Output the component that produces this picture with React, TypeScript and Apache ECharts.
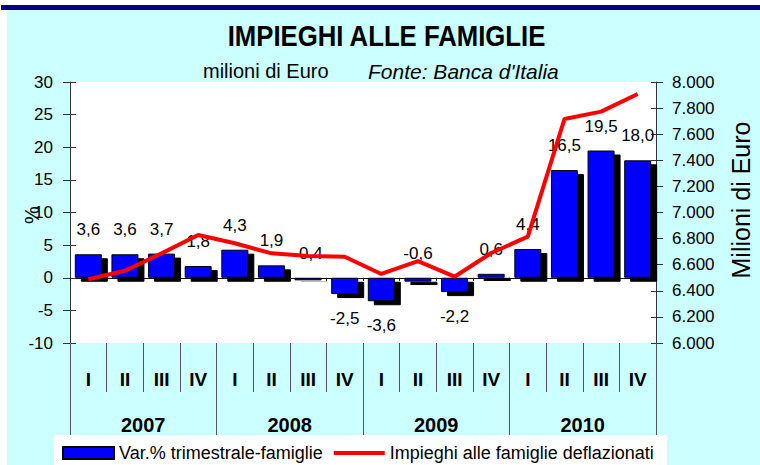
import React, { useEffect, useRef } from 'react';
import * as echarts from 'echarts';

const quarters = ['I', 'II', 'III', 'IV', 'I', 'II', 'III', 'IV', 'I', 'II', 'III', 'IV', 'I', 'II', 'III', 'IV'];
const years = ['2007', '2008', '2009', '2010'];
const varTrimestrale = [3.6, 3.6, 3.7, 1.8, 4.3, 1.9, -0.4, -2.5, -3.6, -0.6, -2.2, 0.6, 4.4, 16.5, 19.5, 18.0];
const impieghiDeflazionati = [6488, 6554, 6687, 6828, 6764, 6687, 6667, 6661, 6529, 6628, 6508, 6690, 6815, 7716, 7773, 7908];
const rightTickLabels = ['6.000', '6.200', '6.400', '6.600', '6.800', '7.000', '7.200', '7.400', '7.600', '7.800', '8.000'];

const barName = 'Var.% trimestrale-famiglie';
const lineName = 'Impieghi alle famiglie deflazionati';

export default function App() {
  const ref = useRef<HTMLDivElement>(null);
  useEffect(() => {
    const chart = echarts.init(ref.current!, null, { renderer: 'svg' });
    const font = '"Liberation Sans", Arial, sans-serif';
    const axisColor = '#333';
    const sepColor = '#555';
    chart.setOption({
      animation: false,
      backgroundColor: '#fff',
      graphic: [
        { type: 'rect', z: -10, silent: true, shape: { x: 1, y: 5, width: 759, height: 5 }, style: { fill: '#000080' } },
        { type: 'rect', z: -10, silent: true, shape: { x: 7, y: 10, width: 753, height: 455 }, style: { fill: '#ccffff' } },
        { type: 'rect', z: -5, silent: true, shape: { x: 54, y: 435, width: 613, height: 30 }, style: { fill: '#ffffff' } },
        {
          type: 'text', x: 386.5, y: 36, scaleX: 0.887,
          style: { text: 'IMPIEGHI ALLE FAMIGLIE', fill: '#000', font: `bold 29px ${font}`, textAlign: 'center', textVerticalAlign: 'middle' },
        },
        {
          type: 'text', x: 203, y: 71,
          style: { text: 'milioni di Euro', fill: '#000', font: `20px ${font}`, textAlign: 'left', textVerticalAlign: 'middle' },
        },
        {
          type: 'text', x: 368, y: 71,
          style: { text: "Fonte: Banca d'Italia", fill: '#000', font: `italic 21px ${font}`, textAlign: 'left', textVerticalAlign: 'middle' },
        },
        {
          type: 'text', x: 32, y: 215, rotation: Math.PI / 2,
          style: { text: '%', fill: '#000', font: `20px ${font}`, textAlign: 'center', textVerticalAlign: 'middle' },
        },
        {
          type: 'text', x: 741, y: 200, rotation: Math.PI / 2,
          style: { text: 'Milioni di Euro', fill: '#000', font: `25px ${font}`, textAlign: 'center', textVerticalAlign: 'middle' },
        },
      ],
      grid: {
        left: 70, right: 104, top: 82, bottom: 122,
        show: true, backgroundColor: '#ffffff', borderWidth: 0,
      },
      legend: {
        left: 62, top: 444, padding: 0, itemGap: 9, itemWidth: 51, itemHeight: 12,
        textStyle: { fontFamily: font, fontSize: 18, color: '#000' },
        data: [
          { name: barName, icon: 'rect', itemStyle: { color: '#0000ff', borderColor: '#000', borderWidth: 2 } },
          { name: lineName, itemStyle: { opacity: 0 }, lineStyle: { width: 4, color: '#ff0000', opacity: 1 } },
        ],
      },
      xAxis: [
        {
          type: 'category', data: quarters, position: 'bottom',
          axisLine: { show: false, onZero: false },
          axisTick: { show: true, length: 49, lineStyle: { color: sepColor } },
          axisLabel: { fontFamily: font, fontSize: 19, fontWeight: 'bold', color: '#000', margin: 27 },
        },
        {
          type: 'category', data: quarters, position: 'bottom',
          axisLine: { show: true, onZero: true, lineStyle: { color: '#000', width: 1 } },
          axisTick: { show: true, length: 3, lineStyle: { color: '#000' } },
          axisLabel: { show: false },
        },
        {
          type: 'category', data: years, position: 'bottom',
          axisLine: { show: false, onZero: false },
          axisTick: { show: true, length: 92, lineStyle: { color: sepColor } },
          axisLabel: { fontFamily: font, fontSize: 20, fontWeight: 'bold', color: '#000', margin: 72 },
        },
      ],
      yAxis: [
        {
          type: 'value', position: 'left', min: -10, max: 30, interval: 5,
          axisLine: { show: true, lineStyle: { color: axisColor } },
          axisTick: { show: true, length: 7, lineStyle: { color: axisColor } },
          axisLabel: { fontFamily: font, fontSize: 17, color: '#000', margin: 17 },
          splitLine: { show: false },
        },
        {
          type: 'value', position: 'right', min: 6000, max: 8000, interval: 200,
          axisLine: { show: true, lineStyle: { color: axisColor } },
          axisTick: { show: true, length: 7, lineStyle: { color: axisColor } },
          axisLabel: {
            fontFamily: font, fontSize: 17, color: '#000', margin: 16,
            formatter: (v: number) => rightTickLabels[Math.round((v - 6000) / 200)] ?? '',
          },
          splitLine: { show: false },
        },
        {
          type: 'value', position: 'left', min: -10, max: 30, interval: 5,
          axisLine: { show: false },
          axisTick: { show: true, inside: true, length: 6, lineStyle: { color: axisColor } },
          axisLabel: { show: false },
          splitLine: { show: false },
        },
        {
          type: 'value', position: 'right', min: 6000, max: 8000, interval: 200,
          axisLine: { show: false },
          axisTick: { show: true, inside: true, length: 5, lineStyle: { color: axisColor } },
          axisLabel: { show: false },
          splitLine: { show: false },
        },
      ],
      series: [
        {
          name: barName, type: 'bar', xAxisIndex: 0, yAxisIndex: 0, barWidth: 27,
          data: varTrimestrale.map((v) => ({
            value: v,
            label: { position: v > -1 ? 'top' : 'bottom' },
          })),
          itemStyle: {
            color: '#0000ff', borderColor: '#000', borderWidth: 1,
            shadowColor: '#000', shadowBlur: 0, shadowOffsetX: 6, shadowOffsetY: 4,
          },
          label: {
            show: true, distance: 16, fontFamily: font, fontSize: 17, color: '#000',
            formatter: (p: any) => Number(p.value).toFixed(1).replace('.', ','),
          },
        },
        {
          name: lineName, type: 'line', xAxisIndex: 0, yAxisIndex: 1,
          data: impieghiDeflazionati, symbol: 'none',
          itemStyle: { color: '#ff0000' },
          lineStyle: { color: '#ff0000', width: 4 },
        },
      ],
    });
    return () => chart.dispose();
  }, []);
  return <div ref={ref} style={{ position: 'fixed', left: 0, top: 0, width: 760, height: 465 }} />;
}
